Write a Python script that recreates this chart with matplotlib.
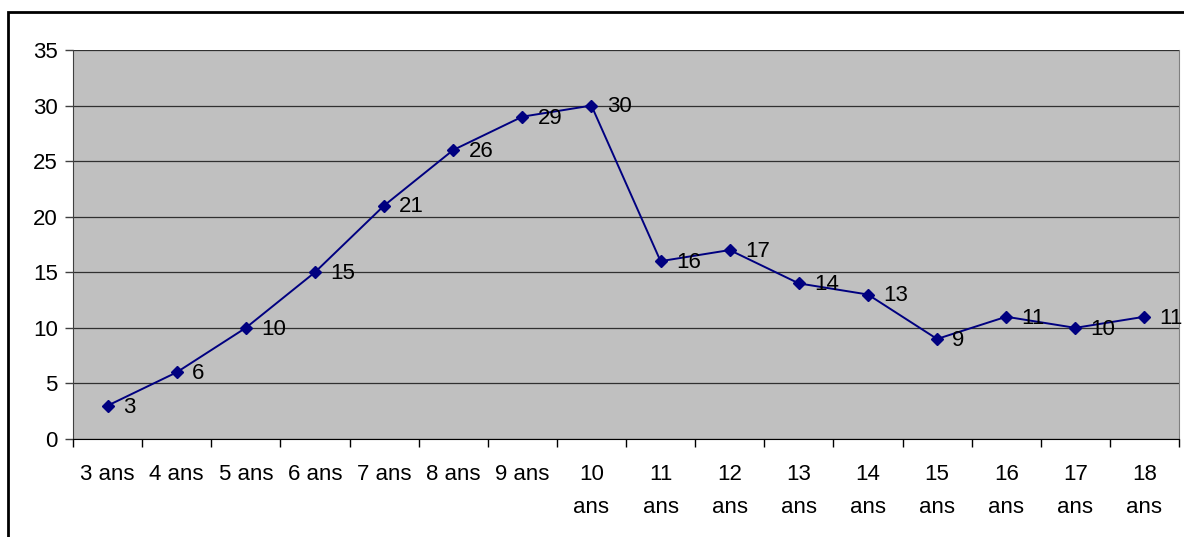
import numpy as np
import matplotlib.pyplot as plt
from matplotlib.patches import Rectangle

plt.rcParams['font.family'] = ['Liberation Sans', 'DejaVu Sans']

ages = ['3 ans', '4 ans', '5 ans', '6 ans', '7 ans', '8 ans', '9 ans', '10\nans',
        '11\nans', '12\nans', '13\nans', '14\nans', '15\nans', '16\nans', '17\nans', '18\nans']
valeurs = [3, 6, 10, 15, 21, 26, 29, 30, 16, 17, 14, 13, 9, 11, 10, 11]

fig = plt.figure(figsize=(11.84, 5.37), dpi=100)
ax = fig.add_axes([73/1184, 1-439/537, 1106/1184, 389/537])
ax.set_facecolor('#C0C0C0')

x = np.arange(len(valeurs))
ax.plot(x, valeurs, color='#000080', lw=1.4, marker='D', ms=6.5, zorder=3)
for xi, v in zip(x, valeurs):
    ax.annotate(str(v), (xi, v), xytext=(11, -1), textcoords='offset points',
                ha='left', va='center', fontsize=16, color='black', zorder=4,
                annotation_clip=False)

ax.set_xlim(-0.5, len(valeurs) - 0.5)
ax.set_ylim(0, 35)
ax.set_yticks(range(0, 36, 5))
ax.yaxis.grid(True, color='#303030', lw=0.9)
ax.set_axisbelow(True)

# ticks between categories, labels centered under each
ax.set_xticks(np.arange(-0.5, len(valeurs)), minor=False)
ax.set_xticklabels([])
ax.set_xticks(x, minor=True)
ax.set_xticklabels(ages, minor=True, fontsize=16, va='top', linespacing=1.75)
ax.tick_params(axis='x', which='minor', length=0, pad=18)
ax.tick_params(axis='x', which='major', length=6, width=1, color='black', direction='out')
ax.tick_params(axis='y', length=6, width=1, color='#404040', labelsize=16, pad=5)

ax.spines['top'].set_visible(False)
ax.spines['right'].set_color('#808080')
ax.spines['left'].set_color('#404040')
ax.spines['bottom'].set_color('black')

# chart border
fig.patches.append(Rectangle((8/1184, -0.1), 1.2, 1.1 - 12/537, transform=fig.transFigure,
                             fill=False, ec='black', lw=2))

fig.savefig('out.png', dpi=100)
